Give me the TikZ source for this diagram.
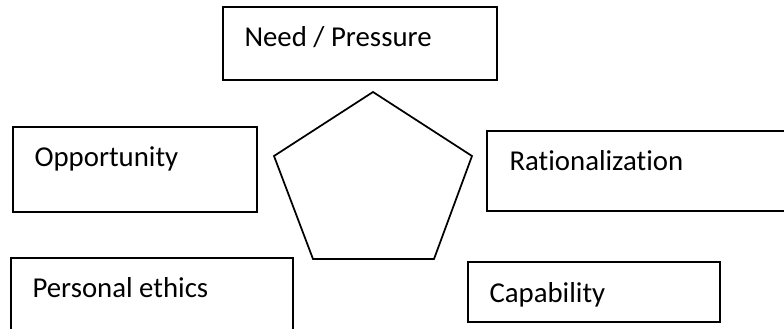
\documentclass[tikz,border=0pt]{standalone}
\usepackage{fontspec}
\setmainfont[Ligatures=NoCommon]{Carlito}
\usepackage{tikz}
\usetikzlibrary{calc}

\begin{document}
\begin{tikzpicture}[x=0.375pt,y=-0.375pt,
  factor/.style={draw,rectangle,line width=0.75pt,inner sep=0pt,outer sep=0pt},
  factortext/.style={anchor=base west,inner sep=0pt,font=\fontsize{10.8}{13}\selectfont}]
\clip (0,0) rectangle (784,328);

\draw node [factor, minimum width=102.75pt, minimum height=27.375pt] (need) at (360,43.5){};
\draw node [factortext] at ($ (need.north west)+(21,40)$){Need / Pressure};

\draw node [factor, minimum width=91.5pt, minimum height=31.875pt] (opportunity) at (135,169.5){};
\draw node [factortext] at ($ (opportunity.north west)+(21,39)$){Opportunity};

\draw node [factor, minimum width=117.375pt, minimum height=30pt] (rationalization) at (643.5,171){};
\draw node [factortext] at ($ (rationalization.north west)+(22,39)$){Rationalization};

\draw node [factor, minimum width=105.75pt, minimum height=30.75pt] (ethics) at (152,299){};
\draw node [factortext] at ($ (ethics.north west)+(21,39)$){Personal ethics};

\draw node [factor, minimum width=94.5pt, minimum height=22.5pt] (capability) at (594,292){};
\draw node [factortext] at ($ (capability.north west)+(21,40)$){Capability};

\draw[line width=0.65pt,line join=miter] (373,92) -- (472,156) -- (434,259) -- (313,259) -- (274,156) -- cycle;

\end{tikzpicture}
\end{document}
